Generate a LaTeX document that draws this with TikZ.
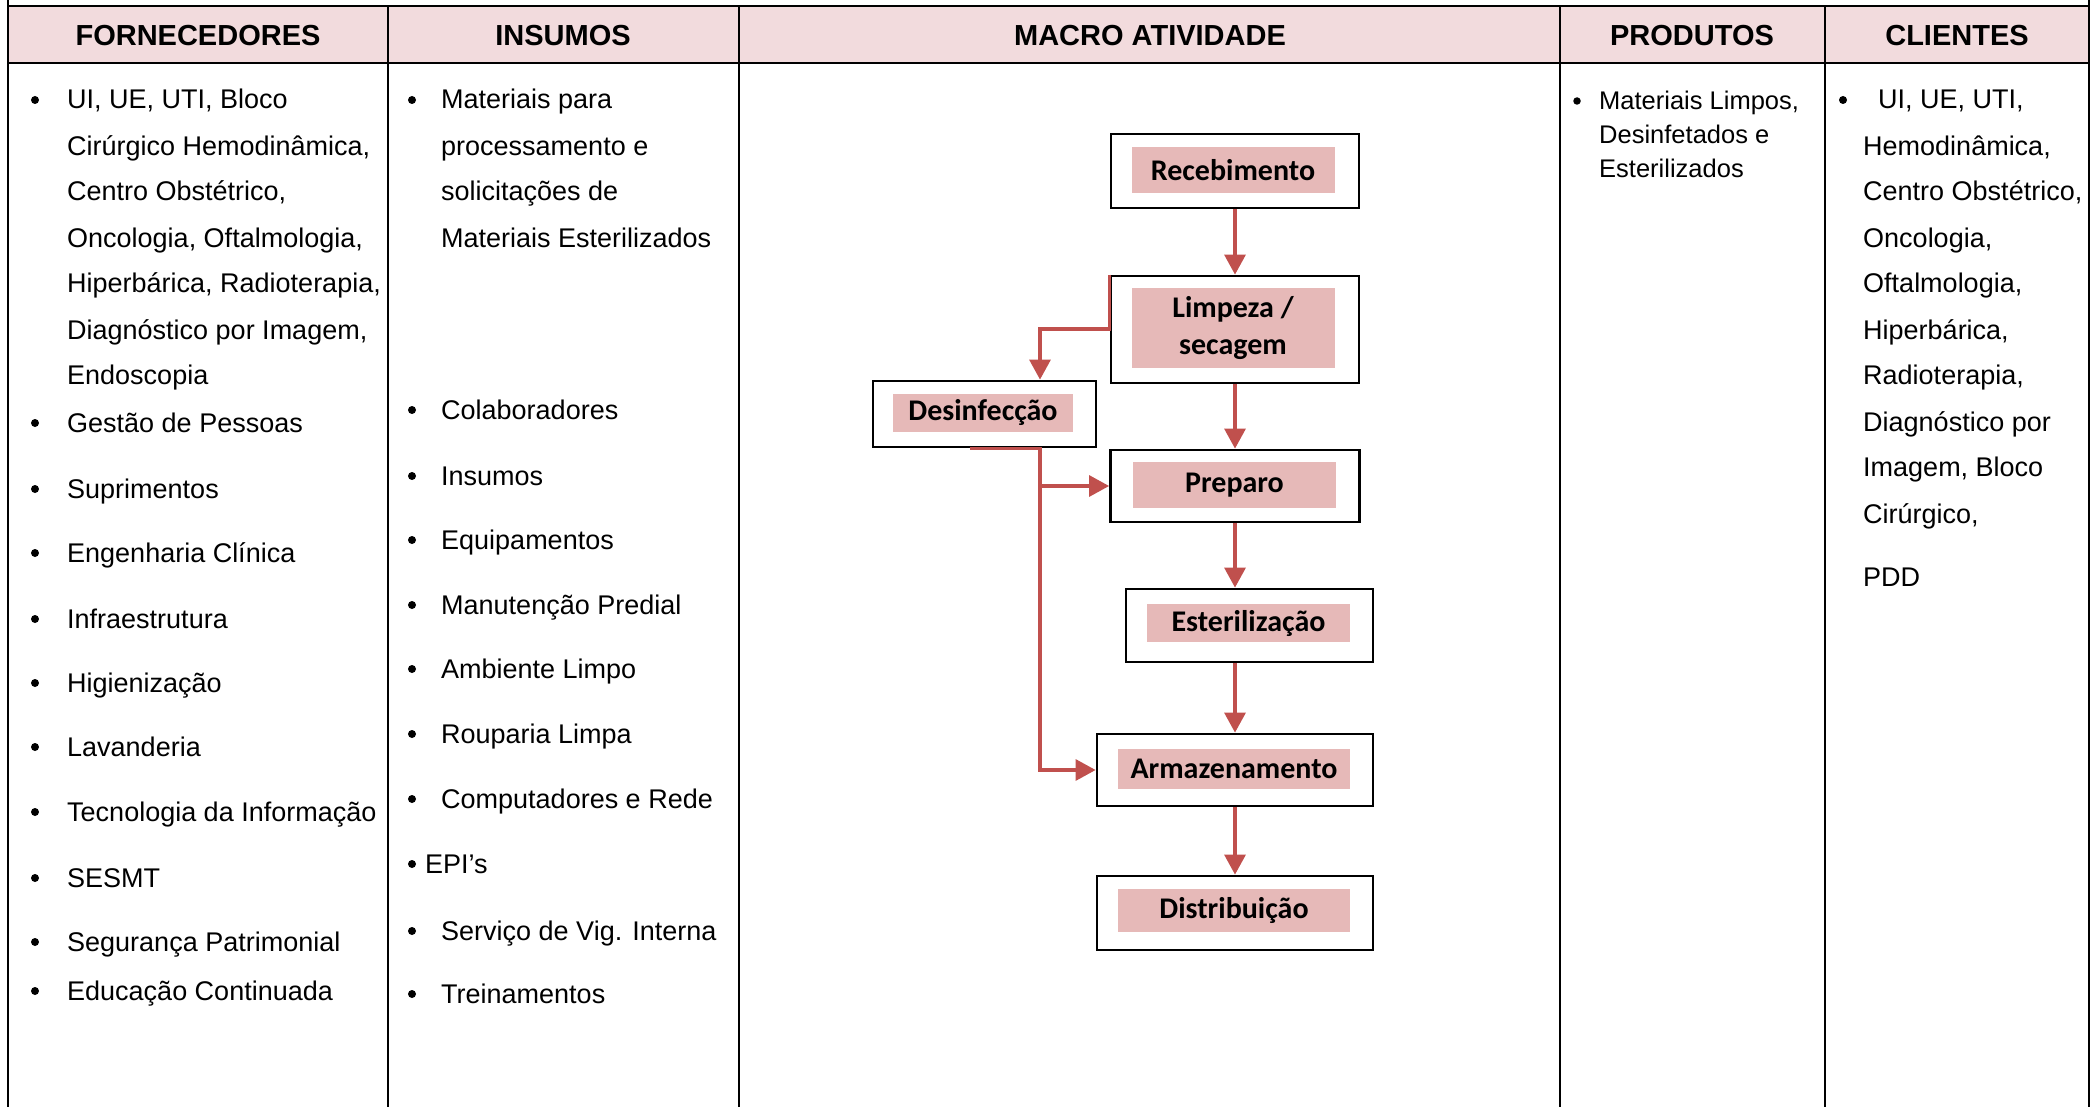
\documentclass[tikz,border=0pt]{standalone}
\usepackage{fontspec}
\setmainfont{Liberation Sans}
\newfontfamily\calibri{Carlito}
\usetikzlibrary{arrows.meta,positioning}
\definecolor{headpink}{RGB}{242,219,221}
\definecolor{steppink}{RGB}{230,185,184}
\definecolor{flowred}{RGB}{192,80,77}

\tikzset{
  rule line/.style={line width=2.6pt, black},
  colhead/.style={anchor=base, inner sep=0pt, font=\fontsize{29pt}{29pt}\selectfont\bfseries},
  listtext/.style={anchor=base west, inner sep=0pt, font=\fontsize{27pt}{27pt}\selectfont},
  bulletmark/.style={circle, fill=black, inner sep=0pt, minimum size=8pt},
  stepbox/.style={draw=black, line width=2.8pt, inner sep=0pt},
  steplabel/.style={fill=steppink, inner sep=0pt, align=center,
    font=\calibri\bfseries\fontsize{30pt}{37pt}\selectfont},
  flowarrow/.style={draw=flowred, line width=3.2pt, -{Triangle[width=21pt,length=20pt]}},
}

\begin{document}
\begin{tikzpicture}[x=1pt, y=-1pt]
	\useasboundingbox (0,0) rectangle (2096,1107);

	% Header row and the table rules.
	\fill[headpink] (8,6) rectangle (2089,63);
	\draw[rule line] (8,0) -- (8,1107);
	\draw[rule line] (2089,0) -- (2089,1107);
	\draw[rule line] (8,6) -- (2089,6);
	\draw[rule line] (8,63) -- (2089,63);
	\foreach \x in {388,739,1560,1825}
		\draw[rule line] (\x,6) -- (\x,1107);

	% Column titles
	\node[colhead] (hforn) at (198,46) {FORNECEDORES};
	\node[colhead] (hins) at (563,46) {INSUMOS};
	\node[colhead] (hmacro) at (1150,46) {MACRO ATIVIDADE};
	\node[colhead] (hprod) at (1692,46) {PRODUTOS};
	\node[colhead] (hcli) at (1957,46) {CLIENTES};

	% Fornecedores
	\foreach \y/\txt [count=\i] in {99/{UI, UE, UTI, Bloco}, 146/{Cirúrgico Hemodinâmica,},
		191/{Centro Obstétrico,}, 238/{Oncologia, Oftalmologia,}, 283/{Hiperbárica, Radioterapia,},
		329/{Diagnóstico por Imagem,}, 374/{Endoscopia}, 422/{Gestão de Pessoas}, 488/{Suprimentos},
		552/{Engenharia Clínica}, 618/{Infraestrutura}, 682/{Higienização}, 746/{Lavanderia},
		811/{Tecnologia da Informação}, 877/{SESMT}, 941/{Segurança Patrimonial}, 990/{Educação Continuada}}
		\node[listtext] (forn\i) at (67,\y+10) {\txt};
	\foreach \y [count=\i] in {99,422,488,552,618,682,746,811,877,941,990}
		\node[bulletmark] (fbul\i) at (35,\y+1) {};

	% Insumos
	\foreach \y/\txt [count=\i] in {99/{Materiais para}, 146/{processamento e}, 191/{solicitações de},
		238/{Materiais Esterilizados}, 409/{Colaboradores}, 475/{Insumos}, 539/{Equipamentos},
		604/{Manutenção Predial}, 668/{Ambiente Limpo}, 733/{Rouparia Limpa}, 798/{Computadores e Rede},
		930/{Serviço de Vig. Interna}, 993/{Treinamentos}}
		\node[listtext] (ins\i) at (441,\y+10) {\txt};
	\node[listtext] (insepi) at (425,873) {EPI’s};
	\foreach \y [count=\i] in {99,409,475,539,604,668,733,798,863,930,993}
		\node[bulletmark] (ibul\i) at (412,\y+1) {};

	% Produtos
	\foreach \y/\txt [count=\i] in {101/{Materiais Limpos,}, 135/{Desinfetados e}, 169/{Esterilizados}}
		\node[listtext, font=\fontsize{25.5pt}{25.5pt}\selectfont] (prod\i) at (1599,\y+9) {\txt};
	\node[bulletmark, minimum size=7.5pt] (pbul) at (1577,101) {};

	% Clientes
	\node[listtext] (cli0) at (1878,109) {UI, UE, UTI,};
	\foreach \y/\txt [count=\i] in {146/{Hemodinâmica,}, 191/{Centro Obstétrico,}, 238/{Oncologia,},
		283/{Oftalmologia,}, 329/{Hiperbárica,}, 374/{Radioterapia,}, 421/{Diagnóstico por},
		466/{Imagem, Bloco}, 513/{Cirúrgico,}, 576/{PDD}}
		\node[listtext] (cli\i) at (1863,\y+10) {\txt};
	\node[bulletmark] (cbul) at (1843,100) {};

	% Macro atividade: outer frames, then the pink labels.
	\node[stepbox, minimum width=248pt, minimum height=74pt] (receb) at (1235,171) {};
	\node[stepbox, minimum width=248pt, minimum height=107pt] (limp) at (1235,329.5) {};
	\node[stepbox, minimum width=223pt, minimum height=66pt] (desin) at (984.5,414) {};
	\node[stepbox, minimum width=249pt, minimum height=72pt] (prep) at (1235,486) {};
	\node[stepbox, minimum width=247pt, minimum height=73pt] (ester) at (1249.5,625.5) {};
	\node[stepbox, minimum width=276pt, minimum height=72pt] (armaz) at (1235,770) {};
	\node[stepbox, minimum width=276pt, minimum height=74pt] (distr) at (1235,913) {};

	\node[steplabel, minimum width=203pt, minimum height=46pt] (recebtxt) at (1233,170) {Recebimento};
	\node[steplabel, minimum width=203pt, minimum height=80pt] (limptxt) at (1233,328) {Limpeza /\\secagem};
	\node[steplabel, minimum width=180pt, minimum height=38pt] (desintxt) at (983,412.5) {Desinfecção};
	\node[steplabel, minimum width=203pt, minimum height=46pt] (preptxt) at (1234.5,485) {Preparo};
	\node[steplabel, minimum width=203pt, minimum height=38pt] (estertxt) at (1248.5,623) {Esterilização};
	\node[steplabel, minimum width=232pt, minimum height=40pt] (armaztxt) at (1234,769) {Armazenamento};
	\node[steplabel, minimum width=232pt, minimum height=43pt] (distrtxt) at (1234,910.5) {Distribuição};

	% Flow between the steps
	\coordinate (bend) at (1040,329);
	\draw[flowarrow] (receb.south) -- (limp.north);
	\draw[flowarrow] (limp.north west) |- (bend) -- (bend |- desin.north);
	\draw[flowarrow] (limp.south) -- (prep.north);
	\draw[flowarrow] (prep.south) -- (prep.south |- ester.north);
	\draw[flowarrow] (prep.south |- ester.south) -- (prep.south |- armaz.north);
	\draw[flowarrow] (armaz.south) -- (distr.north);
	% Desinfecção feeds both Preparo and Armazenamento
	\draw[flowarrow] ([xshift=-15pt]desin.south) -- (bend |- desin.south) |- (armaz.west);
	\draw[flowarrow] (bend |- prep.west) -- (prep.west);
\end{tikzpicture}
\end{document}
